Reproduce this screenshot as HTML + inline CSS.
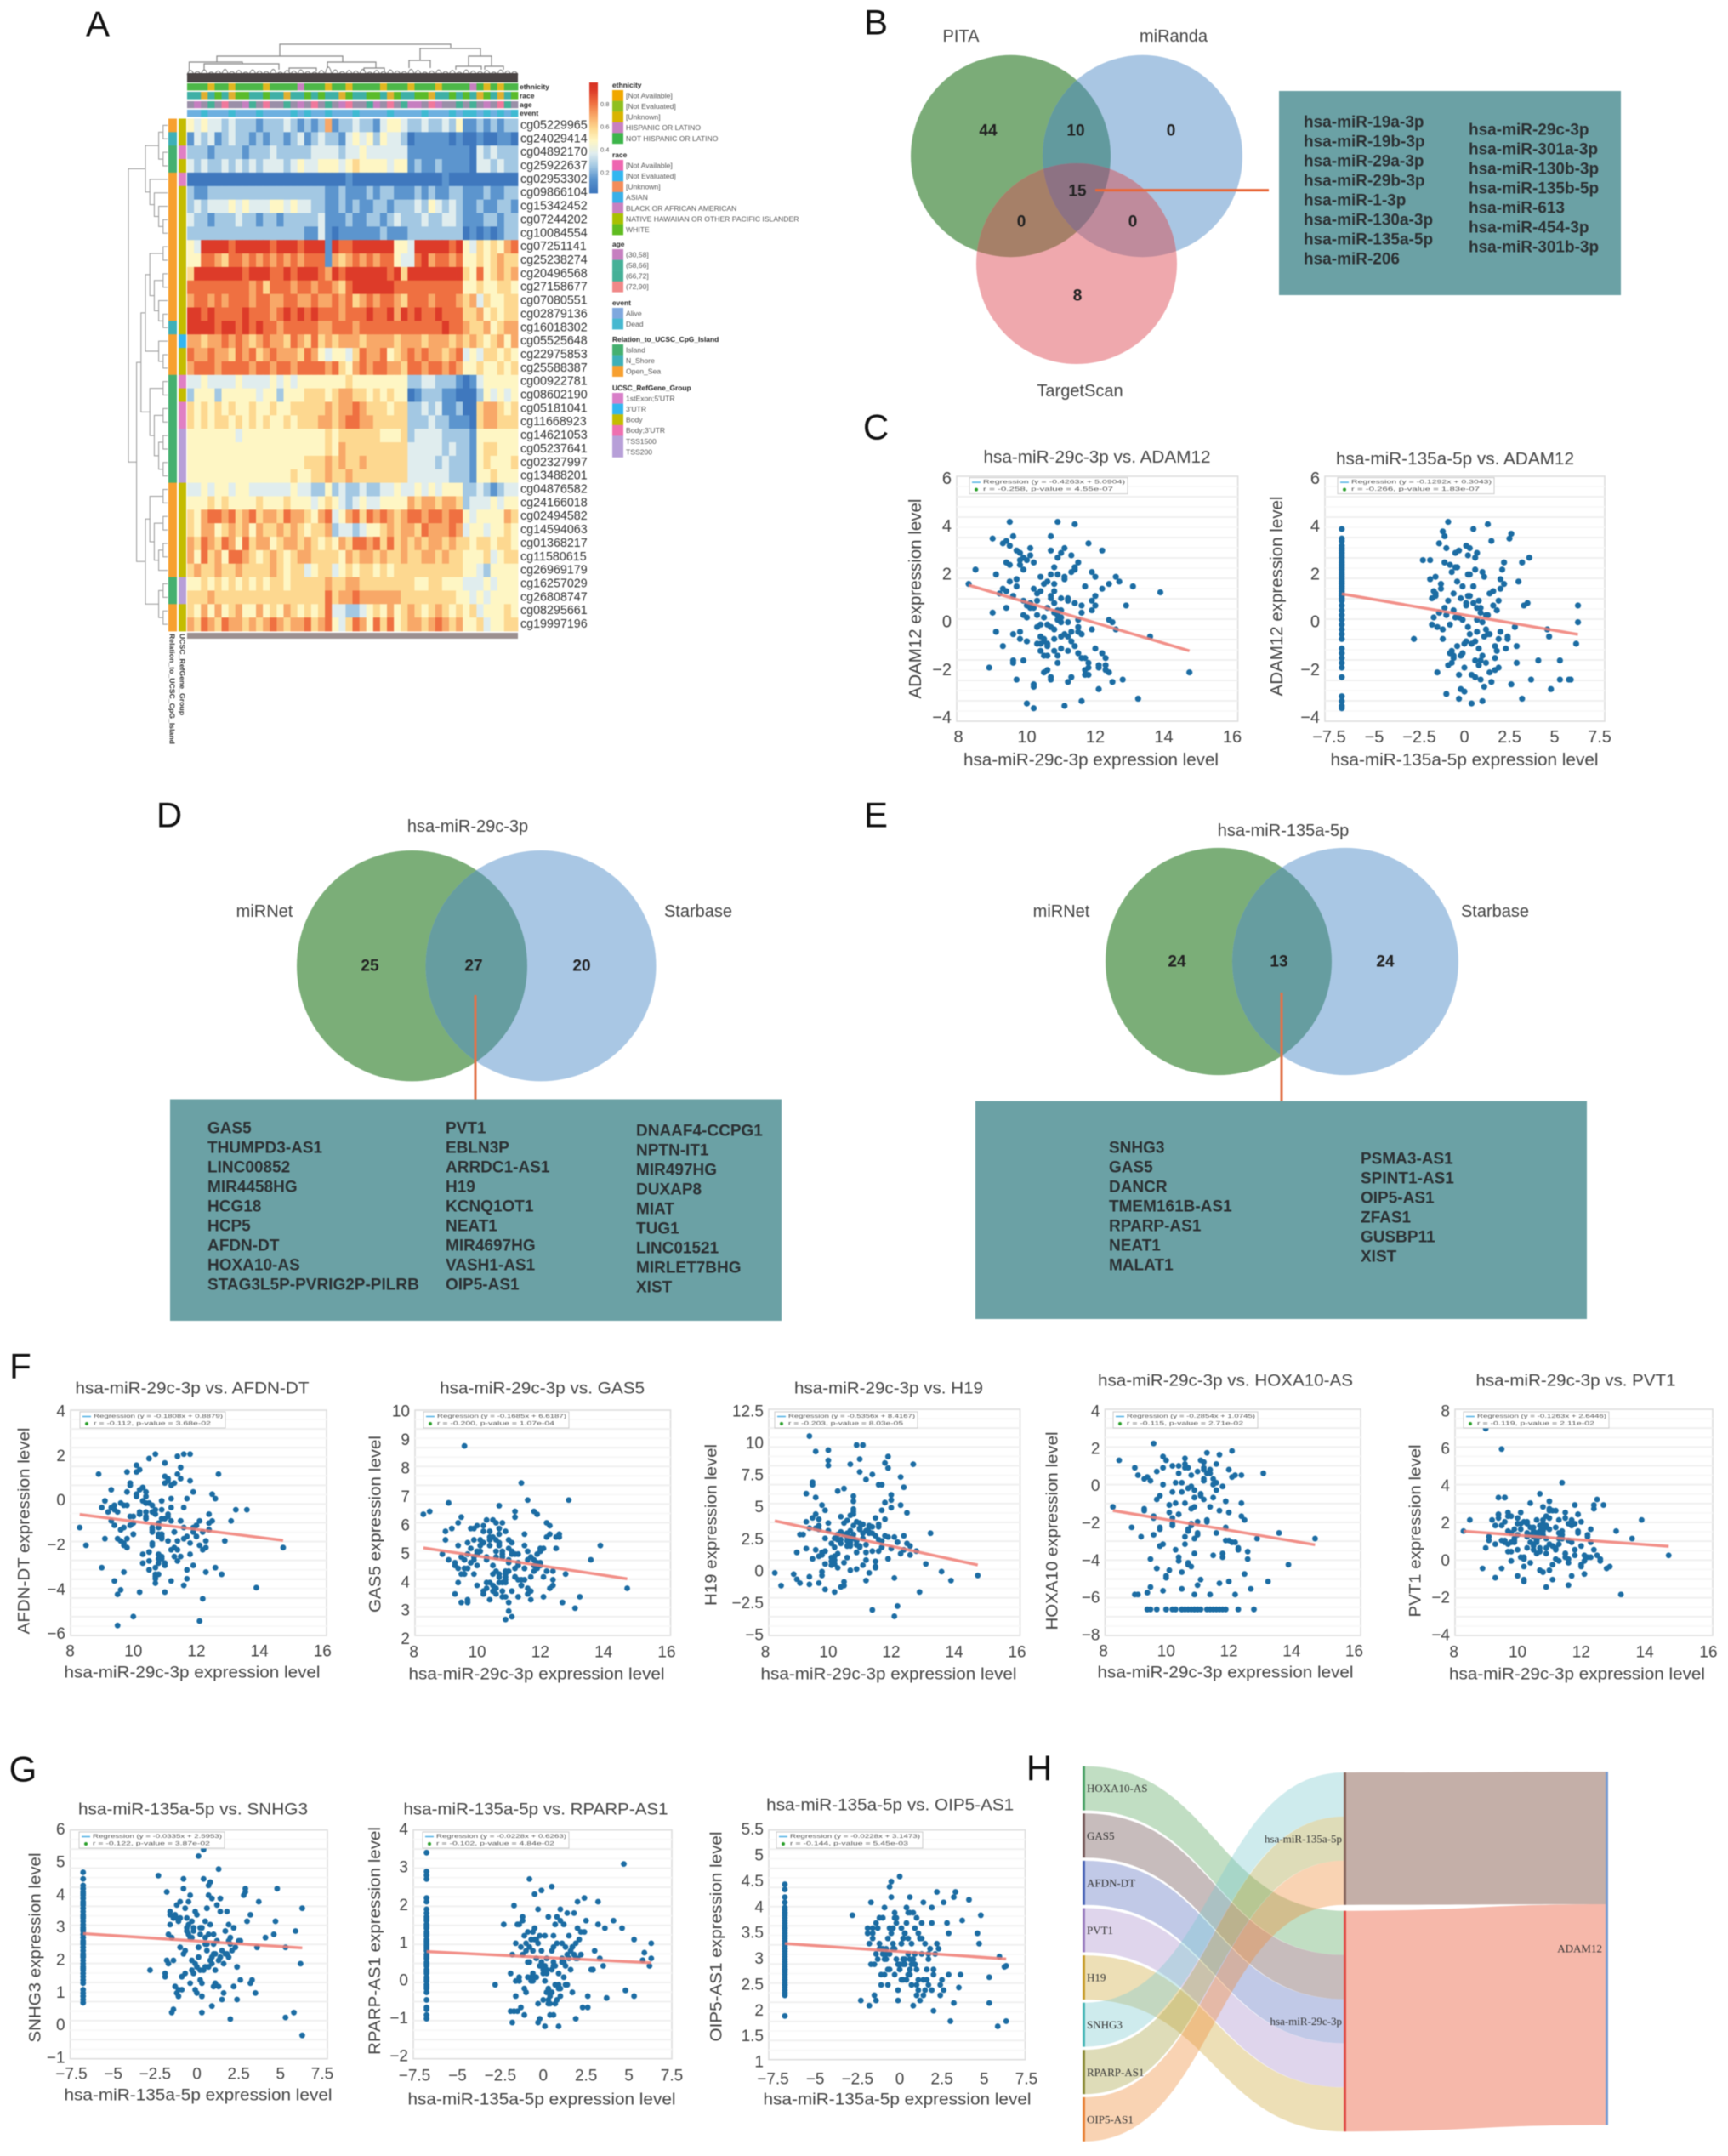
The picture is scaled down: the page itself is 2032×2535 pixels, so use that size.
<!DOCTYPE html>
<html lang="en">
<head>
<meta charset="utf-8">
<title>Multi-panel methylation and ceRNA figure</title>
<style>
html,body{margin:0;padding:0;background:#fff}
svg{display:block;filter:blur(.6px)}
text{font-family:"Liberation Sans",sans-serif}
.letter{font-size:42px;fill:#111;text-anchor:middle;dominant-baseline:central}
.set{font-size:20px;fill:#444;text-anchor:middle;dominant-baseline:central}
.cnt{font-size:19px;font-weight:bold;fill:#222;text-anchor:middle;dominant-baseline:central}
.gene{font-size:19px;font-weight:bold;fill:#2b3033;dominant-baseline:central}
</style>
</head>
<body>
<svg id="fig" xmlns="http://www.w3.org/2000/svg" width="2032" height="2535" viewBox="0 0 2032 2535">
<defs>
<clipPath id="cG"><ellipse cx="1188.5" cy="183.5" rx="117.5" ry="118.7"/></clipPath>
<clipPath id="cB"><ellipse cx="1343.5" cy="183.5" rx="117.5" ry="118.7"/></clipPath>
<clipPath id="cR"><ellipse cx="1266" cy="310" rx="118" ry="118"/></clipPath>
<clipPath id="dG"><ellipse cx="484.5" cy="1135.7" rx="135.5" ry="135.7"/></clipPath>
<clipPath id="eG"><ellipse cx="1433" cy="1130.5" rx="133" ry="133.6"/></clipPath>
</defs>
<rect width="2032" height="2535" fill="#fff"/>
<text class="letter" x="115" y="28">A</text>
<text class="letter" x="1030" y="26">B</text>
<text class="letter" x="1030" y="502">C</text>
<text class="letter" x="199" y="958">D</text>
<text class="letter" x="1030" y="958">E</text>
<text class="letter" x="24" y="1606">F</text>
<text class="letter" x="27" y="2080">G</text>
<text class="letter" x="1222" y="2079">H</text>

<g>
<ellipse cx="1188.5" cy="183.5" rx="117.5" ry="118.7" fill="#7BAC78"/>
<ellipse cx="1343.5" cy="183.5" rx="117.5" ry="118.7" fill="#A9C6E3"/>
<ellipse cx="1266" cy="310" rx="118" ry="118" fill="#EFA8AD"/>
<g clip-path="url(#cG)"><ellipse cx="1343.5" cy="183.5" rx="117.5" ry="118.7" fill="#629A9E"/></g>
<g clip-path="url(#cG)"><ellipse cx="1266" cy="310" rx="118" ry="118" fill="#A68068"/></g>
<g clip-path="url(#cB)"><ellipse cx="1266" cy="310" rx="118" ry="118" fill="#BF8B9C"/></g>
<g clip-path="url(#cG)"><g clip-path="url(#cB)"><ellipse cx="1266" cy="310" rx="118" ry="118" fill="#8D7283"/></g></g>
<text class="set" x="1130" y="43">PITA</text>
<text class="set" x="1380" y="43">miRanda</text>
<text class="set" x="1270" y="460">TargetScan</text>
<text class="cnt" x="1162" y="154">44</text>
<text class="cnt" x="1265" y="154">10</text>
<text class="cnt" x="1377" y="154">0</text>
<text class="cnt" x="1267" y="225">15</text>
<text class="cnt" x="1201" y="261">0</text>
<text class="cnt" x="1332" y="261">0</text>
<text class="cnt" x="1267" y="348">8</text>
<line x1="1288" y1="223.6" x2="1492" y2="223.6" stroke="#E8683A" stroke-width="3"/>
<rect x="1504" y="107" width="402" height="240" fill="#6BA1A5"/>
<text class="gene" x="1533" y="144">hsa-miR-19a-3p</text>
<text class="gene" x="1533" y="167">hsa-miR-19b-3p</text>
<text class="gene" x="1533" y="190">hsa-miR-29a-3p</text>
<text class="gene" x="1533" y="213">hsa-miR-29b-3p</text>
<text class="gene" x="1533" y="236">hsa-miR-1-3p</text>
<text class="gene" x="1533" y="259">hsa-miR-130a-3p</text>
<text class="gene" x="1533" y="282">hsa-miR-135a-5p</text>
<text class="gene" x="1533" y="305">hsa-miR-206</text>
<text class="gene" x="1727" y="153">hsa-miR-29c-3p</text>
<text class="gene" x="1727" y="176">hsa-miR-301a-3p</text>
<text class="gene" x="1727" y="199">hsa-miR-130b-3p</text>
<text class="gene" x="1727" y="222">hsa-miR-135b-5p</text>
<text class="gene" x="1727" y="245">hsa-miR-613</text>
<text class="gene" x="1727" y="268">hsa-miR-454-3p</text>
<text class="gene" x="1727" y="291">hsa-miR-301b-3p</text>
</g>

<g>
<ellipse cx="484.5" cy="1135.7" rx="135.5" ry="135.7" fill="#7BAE78"/>
<ellipse cx="636" cy="1135.7" rx="135.5" ry="135.7" fill="#A9C7E4"/>
<g clip-path="url(#dG)"><ellipse cx="636" cy="1135.7" rx="135.5" ry="135.7" fill="#669DA0"/></g>
<text class="set" x="550" y="972">hsa-miR-29c-3p</text>
<text class="set" x="311" y="1072">miRNet</text>
<text class="set" x="821" y="1072">Starbase</text>
<text class="cnt" x="435" y="1136">25</text>
<text class="cnt" x="557" y="1136">27</text>
<text class="cnt" x="684" y="1136">20</text>
<line x1="559" y1="1170" x2="559" y2="1293" stroke="#E2734A" stroke-width="3"/>
<rect x="200" y="1292.5" width="719" height="260.5" fill="#6BA1A5"/>
<text class="gene" x="244" y="1327">GAS5</text>
<text class="gene" x="244" y="1350">THUMPD3-AS1</text>
<text class="gene" x="244" y="1373">LINC00852</text>
<text class="gene" x="244" y="1396">MIR4458HG</text>
<text class="gene" x="244" y="1419">HCG18</text>
<text class="gene" x="244" y="1442">HCP5</text>
<text class="gene" x="244" y="1465">AFDN-DT</text>
<text class="gene" x="244" y="1488">HOXA10-AS</text>
<text class="gene" x="244" y="1511">STAG3L5P-PVRIG2P-PILRB</text>
<text class="gene" x="524" y="1327">PVT1</text>
<text class="gene" x="524" y="1350">EBLN3P</text>
<text class="gene" x="524" y="1373">ARRDC1-AS1</text>
<text class="gene" x="524" y="1396">H19</text>
<text class="gene" x="524" y="1419">KCNQ1OT1</text>
<text class="gene" x="524" y="1442">NEAT1</text>
<text class="gene" x="524" y="1465">MIR4697HG</text>
<text class="gene" x="524" y="1488">VASH1-AS1</text>
<text class="gene" x="524" y="1511">OIP5-AS1</text>
<text class="gene" x="748" y="1330">DNAAF4-CCPG1</text>
<text class="gene" x="748" y="1353">NPTN-IT1</text>
<text class="gene" x="748" y="1376">MIR497HG</text>
<text class="gene" x="748" y="1399">DUXAP8</text>
<text class="gene" x="748" y="1422">MIAT</text>
<text class="gene" x="748" y="1445">TUG1</text>
<text class="gene" x="748" y="1468">LINC01521</text>
<text class="gene" x="748" y="1491">MIRLET7BHG</text>
<text class="gene" x="748" y="1514">XIST</text>
</g>

<g>
<ellipse cx="1433" cy="1130.5" rx="133" ry="133.6" fill="#7BAE78"/>
<ellipse cx="1582" cy="1130.5" rx="133" ry="133.6" fill="#A9C7E4"/>
<g clip-path="url(#eG)"><ellipse cx="1582" cy="1130.5" rx="133" ry="133.6" fill="#669DA0"/></g>
<text class="set" x="1509" y="977">hsa-miR-135a-5p</text>
<text class="set" x="1248" y="1072">miRNet</text>
<text class="set" x="1758" y="1072">Starbase</text>
<text class="cnt" x="1384" y="1131">24</text>
<text class="cnt" x="1504" y="1131">13</text>
<text class="cnt" x="1629" y="1131">24</text>
<line x1="1507" y1="1167" x2="1507" y2="1295" stroke="#E2734A" stroke-width="3"/>
<rect x="1147" y="1294.6" width="719" height="256.4" fill="#6BA1A5"/>
<text class="gene" x="1304" y="1350">SNHG3</text>
<text class="gene" x="1304" y="1373">GAS5</text>
<text class="gene" x="1304" y="1396">DANCR</text>
<text class="gene" x="1304" y="1419">TMEM161B-AS1</text>
<text class="gene" x="1304" y="1442">RPARP-AS1</text>
<text class="gene" x="1304" y="1465">NEAT1</text>
<text class="gene" x="1304" y="1488">MALAT1</text>
<text class="gene" x="1600" y="1363">PSMA3-AS1</text>
<text class="gene" x="1600" y="1386">SPINT1-AS1</text>
<text class="gene" x="1600" y="1409">OIP5-AS1</text>
<text class="gene" x="1600" y="1432">ZFAS1</text>
<text class="gene" x="1600" y="1455">GUSBP11</text>
<text class="gene" x="1600" y="1478">XIST</text>
</g>

<g>
<path fill="none" stroke="#888" stroke-width="1.2" d="M329 66V52H530V57M255 73V66H403V73M494 71V57H565V66M481 80V71H506V80M551 78V66H578V78M222.500 83V73H285V75M240 82V75H328V82M385 80V73H442V80M536 82V78H566V82M570 82V78H592V82M340 84V80H372V84M428 84V80H452V84"/>
<text x="611" y="102" font-size="8.500" font-weight="bold" fill="#222" dominant-baseline="central">ethnicity</text>
<text x="611" y="112.500" font-size="8.500" font-weight="bold" fill="#222" dominant-baseline="central">race</text>
<text x="611" y="123" font-size="8.500" font-weight="bold" fill="#222" dominant-baseline="central">age</text>
<text x="611" y="133" font-size="8.500" font-weight="bold" fill="#222" dominant-baseline="central">event</text>
<rect x="220" y="744" width="389" height="7" fill="#9C9090"/>
<text transform="translate(214,745) rotate(90)" font-size="8" font-weight="bold" fill="#333" dominant-baseline="central" textLength="96" lengthAdjust="spacingAndGlyphs">UCSC_RefGene_Group</text>
<text transform="translate(202,745) rotate(90)" font-size="8" font-weight="bold" fill="#333" dominant-baseline="central" textLength="130" lengthAdjust="spacingAndGlyphs">Relation_to_UCSC_CpG_Island</text>
</g>
<g id="dyn"></g>
</svg>
<script>
/* ---------- heatmap data ---------- */
const heatProbes=["cg05229965","cg24029414","cg04892170","cg25922637","cg02953302","cg09866104","cg15342452","cg07244202","cg10084554","cg07251141","cg25238274","cg20496568","cg27158677","cg07080551","cg02879136","cg16018302","cg05525648","cg22975853","cg25588387","cg00922781","cg08602190","cg05181041","cg11668923","cg14621053","cg05237641","cg02327997","cg13488201","cg04876582","cg24166018","cg02494582","cg14594063","cg01368217","cg11580615","cg26969179","cg16257029","cg26808747","cg08295661","cg19997196"];
const heatValues=[
[5,4,5,4,4,3,4,3,3,3,2,3,3,3,4,3,2,3,2,3,7,2,3,3,4,3,3,2,4,5,5,4,3,3,4,3,3,4,3,5,2,2,3,2,3,2,3,3],
[2,4,3,4,2,3,4,3,3,2,3,2,3,3,2,3,4,2,3,4,3,3,2,4,5,4,5,3,5,4,4,3,1,2,2,2,2,2,1,2,1,1,2,1,1,2,2,1],
[3,3,3,2,3,3,3,3,2,3,3,3,4,3,3,3,3,3,4,4,4,4,3,4,4,5,4,4,4,4,4,4,2,2,2,2,2,2,2,2,2,1,4,3,4,3,3,3],
[4,3,4,3,3,4,3,4,3,4,3,4,4,4,3,4,5,4,4,5,5,5,4,5,6,5,5,5,5,4,5,5,2,3,2,2,3,2,2,2,2,1,4,4,3,4,3,3],
[1,1,1,1,1,1,1,1,1,1,1,1,1,1,1,1,1,1,1,1,1,1,1,2,1,1,1,1,1,1,1,1,1,1,1,1,1,2,1,1,1,1,1,1,1,1,1,1],
[3,2,2,3,3,3,3,3,3,3,3,3,3,3,3,3,3,3,3,3,2,2,3,2,2,2,3,2,3,3,2,2,2,3,2,3,2,2,3,3,2,2,2,3,2,2,3,3],
[3,4,3,4,4,4,5,4,5,4,4,4,5,5,4,5,4,4,3,3,2,2,3,2,3,2,2,3,3,2,3,3,3,4,3,5,4,3,4,3,2,2,3,2,2,3,3,2],
[4,3,3,2,3,3,3,4,3,3,2,3,3,2,3,3,3,3,3,4,2,2,2,3,2,2,3,3,2,3,4,3,3,3,4,3,3,4,4,3,2,2,2,3,3,2,3,3],
[3,3,3,3,3,3,3,3,3,3,3,3,3,3,3,3,3,2,2,4,2,1,2,2,2,2,2,2,3,2,2,2,3,3,3,3,3,3,3,3,1,2,1,2,1,2,3,3],
[5,4,9,9,9,9,8,9,9,9,9,9,8,9,9,9,8,9,9,9,2,9,8,8,9,9,9,9,9,9,5,5,4,9,9,9,9,9,8,9,5,4,6,5,6,5,7,8],
[5,5,8,8,7,6,8,8,7,8,7,8,7,8,7,8,7,8,8,8,2,7,6,7,8,7,8,7,8,8,5,4,4,8,9,7,8,8,7,8,5,5,6,5,6,7,6,6],
[6,9,9,9,9,9,9,9,8,9,9,9,8,8,9,8,9,9,9,8,7,9,8,9,9,9,9,9,9,8,9,6,9,9,9,9,9,9,9,9,6,5,8,5,6,7,6,7],
[8,8,8,8,8,8,8,8,8,7,8,6,8,8,8,7,8,8,7,8,8,7,6,8,9,9,9,9,9,9,8,8,8,8,8,8,8,8,8,8,5,5,6,5,5,6,6,5],
[7,8,8,7,8,7,8,8,8,7,8,8,7,7,8,8,7,7,8,7,7,8,7,8,6,7,8,7,8,8,7,6,8,8,8,7,8,8,8,7,6,7,4,6,5,5,6,6],
[9,9,8,9,8,8,8,8,9,8,8,8,7,8,9,8,9,8,9,8,8,8,7,8,8,8,9,8,8,9,7,9,8,9,8,8,9,8,8,8,6,6,7,5,6,5,6,6],
[9,9,9,9,8,9,9,8,9,8,9,8,8,7,8,8,8,8,8,7,7,8,8,8,7,8,8,8,8,8,8,8,8,8,8,8,8,9,8,8,7,6,6,7,5,6,7,7],
[7,7,6,7,7,8,7,8,7,6,7,8,7,7,6,8,7,6,8,6,7,6,7,7,7,6,7,7,7,7,6,7,7,7,6,7,7,7,6,7,6,7,6,5,6,7,5,7],
[8,7,7,8,7,7,6,8,7,8,6,7,8,7,7,7,6,8,7,5,4,5,5,4,6,8,7,7,8,5,6,7,8,7,8,7,7,6,7,8,4,5,4,6,6,5,6,5],
[7,8,8,8,7,8,8,8,8,7,8,8,7,8,8,7,8,8,8,8,7,8,6,5,7,8,7,8,8,7,7,6,8,8,7,8,8,7,8,7,5,5,6,5,5,6,5,6],
[4,4,5,4,4,4,4,5,4,4,4,4,5,4,5,4,5,5,5,5,5,5,5,6,5,5,5,5,5,5,5,5,3,3,4,4,3,3,3,2,1,2,4,5,5,5,5,5],
[3,5,5,5,3,5,5,5,5,5,4,5,5,3,5,5,5,6,6,6,5,6,7,7,6,6,5,6,5,6,5,5,1,2,3,3,3,2,2,1,1,1,3,5,4,5,4,5],
[6,5,6,5,6,5,6,5,5,6,5,5,6,5,5,6,6,6,6,6,7,6,7,7,8,7,6,6,6,5,6,6,3,3,4,3,4,2,2,3,1,1,6,7,7,6,5,6],
[6,5,6,5,6,6,5,6,5,6,5,6,5,5,6,5,6,6,6,7,7,6,7,8,8,7,7,6,6,6,6,6,3,3,3,4,3,3,2,2,2,1,6,7,7,6,6,6],
[5,5,5,5,5,5,5,4,5,5,5,5,5,5,5,5,5,5,5,5,6,5,6,6,6,6,6,6,5,5,5,6,3,4,4,4,4,3,3,3,3,2,5,5,5,5,5,5],
[5,5,5,5,5,5,5,5,5,5,5,5,5,5,5,5,5,5,5,5,6,5,7,6,6,6,6,6,6,6,6,6,4,4,4,4,4,3,4,3,3,2,5,6,6,5,5,5],
[5,5,5,5,5,5,5,5,5,5,5,5,5,5,5,5,5,6,6,6,7,6,7,6,6,7,6,6,6,6,6,6,4,4,4,4,3,4,3,3,3,2,5,6,5,5,5,6],
[5,5,5,5,5,5,5,5,5,5,5,5,5,5,5,6,5,5,6,6,7,6,6,7,6,6,6,6,6,6,6,6,4,4,4,4,4,4,3,3,3,2,5,5,6,5,5,5],
[4,4,5,4,5,5,4,5,5,4,4,4,4,4,4,5,4,4,3,3,5,3,4,3,3,4,3,3,4,4,5,4,4,5,4,5,4,5,5,5,3,3,4,3,2,3,4,4],
[5,5,5,6,5,6,5,5,5,5,6,5,5,5,6,5,5,5,4,5,6,5,4,3,4,5,4,4,5,5,5,5,7,6,7,7,6,7,7,6,3,4,4,4,5,4,5,5],
[6,5,7,8,8,7,8,6,7,8,6,7,7,6,8,7,7,6,5,7,8,4,5,7,8,6,8,7,8,7,6,7,8,8,7,8,8,7,8,8,5,4,5,5,5,5,7,6],
[6,5,7,7,5,6,7,6,7,5,7,6,6,7,6,7,6,5,6,6,7,3,4,4,3,4,5,5,6,7,6,7,7,6,8,7,7,7,8,7,4,5,5,4,5,5,6,5],
[7,6,8,7,6,8,7,5,8,6,7,7,5,6,7,7,6,7,6,5,6,5,7,6,8,8,7,8,6,8,6,7,6,7,6,7,7,6,7,6,6,5,6,6,5,6,6,5],
[7,5,8,6,7,5,8,8,7,6,5,6,7,6,5,6,7,7,6,6,6,6,5,7,6,7,7,6,7,6,6,7,6,6,7,7,6,7,6,6,5,5,5,6,4,5,6,6],
[6,7,6,6,7,6,6,7,6,6,6,6,7,6,5,6,6,4,5,6,6,4,5,6,5,6,6,5,6,5,6,6,6,6,6,6,6,6,6,6,5,5,4,3,5,5,5,5],
[5,5,6,5,6,5,6,5,6,5,6,5,6,6,5,6,6,6,6,6,7,6,6,7,7,6,6,6,6,6,6,6,6,5,5,6,6,5,5,5,4,4,4,5,4,5,5,5],
[6,6,6,7,6,6,6,6,6,6,6,6,6,6,6,6,6,6,6,6,8,6,7,7,8,7,7,7,7,7,7,6,6,6,6,6,6,6,6,5,5,4,5,4,5,5,5,5],
[6,5,7,5,7,5,6,7,5,5,7,5,6,5,7,6,5,6,5,6,8,4,4,3,3,4,5,6,5,7,5,6,7,6,5,6,7,6,5,6,5,6,4,5,5,5,6,5],
[7,6,8,7,6,8,7,7,6,7,6,7,8,7,6,7,7,8,6,7,8,5,4,6,8,7,5,8,6,8,5,6,7,7,6,7,8,7,6,7,5,5,6,4,5,5,6,6]];
const heatScaleColors=["#3A72BA","#3F78BE","#5C95CE","#A3C8E3","#E0EDEE","#FEF6C4","#FDD890","#F8A868","#EF7041","#DD3B29","#D42E20"];
const relationRow=[2,1,0,0,2,2,2,2,2,2,2,2,2,2,2,1,2,2,2,0,0,0,0,0,0,0,0,2,2,2,2,2,2,2,0,0,2,2];
const refgeneRow=[2,2,3,2,3,2,2,2,2,2,2,2,2,2,2,2,1,2,2,3,2,3,3,4,4,4,4,2,2,2,2,2,2,2,4,4,2,2];
const relationColors=["#45B070","#3EB0B8","#F7A030"];
const refgeneColors=["#D87FC8","#33B6F0","#C4BC00","#E07FC4","#B79FD8"];
const annEthnicity=[0,0,0,1,0,0,1,0,0,0,0,1,0,0,0,0,2,0,0,0,1,0,0,1,0,0,0,0,1,0,0,0,1,0,0,0,1,0,0,0,0,2,0,1,0,1,0,0];
const annRace=[1,1,2,1,0,1,2,0,0,1,1,0,1,1,2,1,1,0,1,0,1,1,2,0,1,1,0,0,1,2,0,1,1,0,0,2,1,1,0,1,0,1,2,0,1,2,1,0];
const annAge=[3,0,3,1,3,2,3,3,0,1,3,2,3,3,1,3,0,3,2,3,1,3,0,2,3,3,1,0,3,2,3,1,0,0,3,2,0,3,3,1,3,1,3,0,3,2,1,3];
const annEvent=[0,0,1,0,0,0,1,0,0,0,1,0,0,0,0,1,0,1,0,0,1,0,0,0,1,0,0,0,0,1,0,0,0,0,1,0,0,0,1,0,1,1,0,1,0,1,0,1];
const annPalettes={ethnicity:["#4DB848","#E0B820","#C880C0"],race:["#5BBB2A","#3FB0A6","#E0B030"],age:["#C67FC0","#45B097","#F0789C","#9A8FA8"],event:["#6DB0E0","#3FBAD2"]};
const topLeafHeights=[8,6,9,5,7,10,6,8,5,9,7,6,10,5,8,7,9,6,5,8,14,9,6,8,7,10,5,8,6,9,7,6,10,8,5,7,9,6,8,5,9,7,6,8,5,9,7,6];
const rowTree=[[[[0,1],[2,3]],[4,[5,[6,[7,8]]]]],[[[[[9,10],[[11,12],[13,[14,15]]]],[16,[17,18]]],[[19,20],[[21,22],[[23,24],[25,26]]]]],[[[27,28],[[29,30],[[31,32],33]]],[[34,35],[36,37]]]]];
const legendBlocks=[
["ethnicity",100,[["[Not Available]","#F0A800"],["[Not Evaluated]","#8FBF20"],["[Unknown]","#D8B400"],["HISPANIC OR LATINO","#C880C0"],["NOT HISPANIC OR LATINO","#3DB54A"]]],
["race",182,[["[Not Available]","#EE66B0"],["[Not Evaluated]","#33B6F0"],["[Unknown]","#F48C5A"],["ASIAN","#38B0E8"],["BLACK OR AFRICAN AMERICAN","#C880C0"],["NATIVE HAWAIIAN OR OTHER PACIFIC ISLANDER","#A8C000"],["WHITE","#60BC20"]]],
["age",287,[["(30,58]","#C67FC0"],["(58,66]","#45B097"],["(66,72]","#45B097"],["(72,90]","#F08888"]]],
["event",356,[["Alive","#7FA8DE"],["Dead","#46B8D0"]]],
["Relation_to_UCSC_CpG_Island",399,[["Island","#45B070"],["N_Shore","#3EB0B8"],["Open_Sea","#F7A030"]]],
["UCSC_RefGene_Group",456,[["1stExon;5'UTR","#D87FC8"],["3'UTR","#33B6F0"],["Body","#C4BC00"],["Body;3'UTR","#EE70B0"],["TSS1500","#B79FD8"],["TSS200","#B79FD8"]]]];
const colorbarTicks=[0.8,0.6,0.4,0.2];

/* ---------- scatter data ---------- */
const x29=[14.75,13.9,13.6,13.25,13.1,8.3,8.5,8.9,9,9,9.1,9.1,12.9,12.8,12.7,12.6,
9.6,11.4,10.9,11.1,10,9.5,12.1,10.7,11.8,11,10.2,11.6,9.4,12.2,
10.4,11.2,9.8,10.6,11.5,10.1,10.8,12,9.7,11.3,10.5,10.9,11.7,9.9,10.3,11,12.4,10.7,9.3,11.4,
10.2,11.9,10.6,11.1,9.6,10.8,12.3,10.4,11.5,9.8,10,11.2,12.5,10.9,9.5,11.6,10.3,10.7,11.8,9.7,
11,10.5,12.1,9.2,11.3,10.1,10.8,11.7,9.9,10.6,12,11.4,10.2,9.4,11.1,10.4,12.6,10.9,9.6,11.5,
10.7,11.9,10,11.2,9.3,10.5,12.2,10.8,11.6,9.8,11,10.3,12.4,10.6,9.5,11.3,10.1,11.8,10.9,9.7,
11.4,10.4,12.3,10.7,9.9,11.1,10.2,12,10.8,9.4,11.5,10.6,11.7,10,9.6,11.2,10.5,12.5,10.9,9.8,
11,10.3,11.9,10.7,9.5,11.6,10.1,12.1,10.8,9.3,11.3,10.4,12.2,11,9.7,10.6,11.8,10.2,11.4,9.9,
10.9,12,10.5,11.2,9.6,10.7,11.5,10.3,12.3,10.8,9.8,11.1,10,11.7,10.6,9.4,11.3,10.4,12.4,10.9,
11,10.2,11.6,9.9,10.7,11.9,10.5,9.7,11.2,10.8];
const yAdam29=[-2.1,1.25,-0.6,-3.2,1.5,1.6,2.2,-1.9,3.5,0.4,-0.4,2,0.7,-2.4,1.7,1.9,
3.6,4.1,4.2,-3.5,-3.4,4.2,-2.8,3.6,3.3,2.9,-3.6,-3.3,2.5,3,
1.9,-1.2,2.4,0.6,0.1,2.8,-0.3,1.1,-2.4,-0.8,1.6,0.3,-1.5,2.2,0.9,-0.6,-2.1,3,1.4,-1,
2.5,0.5,-2,1.8,-0.5,0.8,-1.8,1.3,-0.2,2.6,0.2,1,-2.5,-1.4,3.2,0.7,-0.9,2,-1.7,1.5,
0,-0.7,-1.9,1.2,-0.4,3.1,0.4,-2.2,0.9,1.7,-1.1,2.3,-2.6,0.6,1.9,-0.1,-0.3,2.7,-1.6,-1.3,
1.1,2.1,-0.8,-0.6,3.3,0.2,1.4,-1.2,-1.5,2.9,0.5,-0.2,1.6,-1,2.4,-2.3,0.8,-1.9,0.1,1.8,
2.2,-0.9,-2,1,0.3,-0.5,-2.7,0.7,1.3,3.4,-0.4,-1.4,1.5,2.6,-1.7,0.9,-2.1,0,2,-0.7,
-1.1,1.2,-0.3,-2.4,1.7,0.4,0.6,-1.8,2.3,-1,2.8,-0.6,-1.3,0.2,3,-0.1,-2.2,1.4,0.8,-1.6,
0.5,1.9,-0.8,-2.5,1.1,-0.2,2.5,0.3,-1.5,1.6,-0.4,3.1,0.7,-2,-0.9,1.3,2.1,-1.2,0.1,-1.7,
1,0.6,-0.5,2.7,-2.3,0.9,-1.4,1.8,0,-0.7];
const yAfdn=[-2.1,-3.9,-0.4,-0.4,-0.9,-1.2,-2,1.2,-3,-0.3,-1.7,0,-1.8,-3.3,1.2,0.1,
-4,2,-2.5,1,-5.2,-5.6,-5.4,2.1,2.1,-4.1,-4.1,2.1,-3.6,-4.4,
-0.5,-2.2,0.4,-1.4,-0.9,1.3,-2.8,-1.1,-0.2,0.8,-3.1,-1.6,0.1,-0.7,-2.4,1.7,-1.3,-3.5,0.5,-1.8,
-0.6,-2.9,-1.2,0.9,-0.1,-1.5,-3.2,-0.8,1.5,-2.1,-1,-0.3,0.3,-2.6,-1.7,-3.8,0.6,-0.4,-1.9,-1.2,
1.1,-2.3,-0.9,-0.5,-1.4,0.2,-3.3,-1.6,0.7,-2,-1.1,-2.7,1.4,-0.2,-1.8,-0.7,-3,0,-1.3,-2.5,
-0.6,0.4,-1.5,-3.6,-0.9,1.9,-2.2,-1.2,-0.3,-1.7,0.8,-2.8,-1,-0.5,-4.2,-1.4,0.3,-2.4,-0.8,-1.9,
1.2,-0.1,-2.1,-3.4,-1.1,-0.6,0.5,-1.6,-2.6,-0.4,1,-1.3,-3.1,-0.7,-1.8,0.1,-2.3,-0.9,-1.5,-0.2,
-2.9,0.6,-1.2,-3.7,-0.5,-1.7,1.6,-2,-1,-0.3,-2.5,0.2,-1.4,-0.8,-3.2,-1.9,0.9,-0.6,-2.2,-1.1,
-0.4,-1.6,-2.7,0.7,-1.3,-3,-0.9,0,-1.8,-2.4,1.3,-0.7,-1.5,-3.5,-0.2,-1.1,-2.1,0.4,-0.6,-1.7,
-2.8,-0.5,-1.2,0.8,-3.3,-1.4,-0.1,-2,-0.9,-1.6];
const yGas5=[3.8,5.3,4.8,3.5,3.1,6.4,6.5,5,5.5,5.8,6.8,4.8,6.9,4.3,3.3,5.6,
8.8,7.5,2.7,2.8,3.9,3.3,3.5,6.7,6.5,3,3.7,6.9,6.1,6.1,
5.6,4.2,5.9,4.9,4.5,5.3,4,5.1,3.4,4.7,6.2,4.4,3.7,5.5,4.8,5.2,3.9,5.7,4.6,4.1,
6,5,3.6,5.4,4.3,4.9,3.8,5.8,4.5,4.7,5.1,4.2,5.6,3.5,6.3,4.8,4,5.3,4.4,5,
3.3,4.6,5.2,5.9,4.1,5.5,3.7,4.9,4.3,6.1,4.7,3.9,5.4,4.5,5.1,3.4,5.7,4.2,4.8,5.3,
4,6.4,4.6,5,3.6,5.6,4.4,4.9,3.8,5.2,4.7,6.2,4.1,5.5,4.3,3.5,5.1,4.8,5.8,4.5,
3.9,5.3,6,4.2,4.9,3.7,5.4,4.6,5.1,4,5.7,4.4,3.4,5,4.8,6.5,4.3,5.2,4.1,4.7,
5.5,3.8,4.5,5.9,4.9,3.6,5.3,4.2,6.1,4.7,5,4,5.6,4.4,3.3,5.1,4.6,5.8,3.9,4.8,
4.3,5.2,3.7,6.3,4.5,5.4,4.1,4.9,5.7,3.5,4.7,5,6,4.2,3.8,5.3,4.6,5.5,4.4,4,
4.8,3.6,5.1,5.9,4.3,4.7,3.9,5.4,4.5,5];
const yH19=[-0.3,-0.7,0,3,0.6,-0.1,-1.1,-0.2,-0.6,1.5,2.9,-0.9,-1.6,1.6,8.4,2,
9.4,-3,9.9,9.9,9.5,6.8,-3.5,8.4,8.5,8.8,-1.6,6.8,10.6,-2.7,
3.1,7.2,1.5,2.4,4.2,0.8,2.9,5.6,1.2,3.5,-0.8,2.1,4.8,2.6,0.3,3.8,1.7,2.3,6.1,3,
1.9,8.1,2.7,0.5,3.4,4.5,1.4,-1.2,2.8,5.2,3.2,0.9,2.2,3.9,7,1.6,2.5,0.1,4.1,3.3,
2,6.5,-0.5,2.9,3.6,1.1,4.7,2.4,0.6,3,1.8,7.6,2.6,-1,3.7,4.3,1.3,2.1,5.8,0.4,
3.2,2.7,8.3,1.5,3.9,0.7,2.3,4.9,3.5,-0.3,1.9,6.3,2.8,4,1,3.1,2.2,5.4,0.2,3.6,
1.6,2.5,7.4,4.4,-1.4,3,1.2,5,2.6,3.4,0.8,2,6.8,3.8,1.7,-0.7,2.9,4.6,2.4,0,
3.3,1.4,9,2.1,4.2,3.7,0.5,2.7,5.5,1.8,-0.1,3.1,2.3,7.8,4.1,1.1,2.8,0.9,3.5,1.6,
2.4,6,-1.1,3.2,4.5,2,0.3,2.9,5.2,3.6,1.3,2.6,8.7,1.9,4,-0.4,3,2.2,6.6,1.5,
3.4,0.6,2.5,4.8,2.7,1,3.8,-0.9,2.1,5.9];
const yHoxa10=[-2.8,-4.2,-2.5,-5.1,0.7,-1.1,1.4,-2.2,-5.8,1,-5.8,0.6,-2.8,-6.6,-5.5,-3.9,
2.3,-5.8,-6.6,-6.6,-6.6,-6.6,1.9,1,-6.6,-6.6,-6.6,-6.6,-6.6,-5.8,
-1.5,0.4,-3.2,1.2,-0.6,-4.5,-2.1,0.9,-6.6,-1.8,0.2,-3.6,-5.2,1.6,-0.9,-2.6,0.6,-4.1,-1.2,-6.6,
-0.3,-2.9,1,-5,-1.6,0,-3.4,0.7,-6.6,-2.2,1.4,-0.7,-4.7,-1.1,0.3,-2.5,-6.6,-0.1,-3.8,0.8,
-1.9,-5.5,0.5,-2.7,1.8,-1,-4.3,-6.6,0.1,-3.1,-1.4,0.9,-2,-5.7,-0.5,1.1,-3.5,-6.6,-1.7,0.4,
-2.4,-0.8,-4.9,1.3,-1.3,-6.6,-3,0.6,-0.2,-2.3,-5.3,0.2,-1.6,1.5,-3.9,-6.6,-1,0,-2.8,-4.4,
0.7,-1.5,-3.3,-6.6,1,-0.4,-2.1,-5.1,-1.2,0.5,-3.7,-0.9,1.7,-6.6,-2.6,0.3,-4.6,-1.8,-0.6,-3.2,
0.8,-6.6,-2.2,-0.1,-5.4,1.2,-1.4,-3,-6.6,0.4,-1.9,-4,0.6,-2.5,-0.7,-6.6,-3.6,1.1,-1.1,-5.6,
-0.2,-2.9,-6.6,0.9,-1.6,-4.2,0.1,-3.4,-6.6,-2,-0.5,1.4,-4.8,-1.3,-2.7,-6.6,0.7,-3.8,-0.9,-5.8,
-6.6,-1.7,0.2,-3.1,-2.3,-6.6,-0.3,-4.4,1,-1.2];
const yPvt1=[0.3,2.2,1.2,-1.8,1.6,1.6,2.2,-0.4,7.1,0.7,1.1,1.3,-0.3,-0.4,3,0.1,
3.4,4.2,-1.4,-1,-0.8,6,0,3.6,3,3.2,-1,-1.3,3.4,0.2,
1.8,0.6,2.4,1.1,0.2,2,1.4,-0.2,2.6,0.9,1.6,0.4,2.2,1,1.3,-0.5,2.8,0.7,1.9,1.2,
0.1,2.5,1.5,0.8,2.1,-0.6,1.7,1,2.3,0.5,1.4,2.7,0.3,1.8,1.1,-0.1,2,1.6,0.6,2.4,
0.9,1.3,-0.7,2.2,1.5,0.2,2.9,1,1.7,0.4,2.1,1.2,-0.3,2.5,0.8,1.4,0,1.9,1.1,2.6,
0.5,1.6,2.3,0.7,-0.9,1.8,1.3,2,0.1,1,2.7,1.5,0.6,2.2,-0.4,1.2,1.7,0.3,2.4,0.9,
1.4,3.1,0.2,1.9,1.1,-0.2,2.1,0.8,1.6,2.5,0.4,1.3,-0.8,2,1,1.8,0.6,3.3,1.2,0,
2.3,0.7,1.5,-0.5,1.9,1.1,2.6,0.3,1.7,0.9,2.2,-0.1,1.4,2.8,0.5,1,2,0.2,1.6,1.2,
2.4,-0.3,0.8,1.8,3.4,1.3,0.4,2.1,1,-0.6,1.5,2.7,0.6,1.9,1.1,2.3,0,1.4,3,0.7,
1.7,-1.1,2,1.2,0.5,2.5,0.9,1.6,0.1,2.2];
const x135=[6.3,6.3,6.2,5.9,5.8,5.3,5.3,4.8,4.7,4.6,-2.8,4.1,3.7,3.5,3.2,3.2,2.9,-2.3,
0.1,-1.1,1,-0.6,0.7,-1.6,1.9,0.3,-0.3,1.4,-1.9,0.6,2.2,-0.9,0.4,1.2,-0.1,-1.4,1.7,0.9,
-0.5,2.6,0.2,-1.2,1.1,0.5,-0.8,1.6,-1.8,0,2,-0.4,0.8,-1,1.3,2.4,-0.2,-1.5,0.6,1.8,
-0.7,0.3,1,-1.3,2.8,0.1,-0.6,1.5,-1.7,0.9,-0.1,2.1,0.4,-0.9,1.2,3,-1.1,0.7,-0.3,1.7,
-1.6,0.2,2.3,-0.5,1.1,0.5,-1.4,1.9,-0.8,0,0.8,2.6,-1.2,-0.2,1.4,0.6,-1.9,1,-0.4,2,
0.3,-1,1.6,-0.7,0.9,3.3,-1.5,0.1,1.3,-0.3,2.2,0.6,-1.1,1.8,-0.6,0.4,-1.8,1.1,0.2,-0.9,
2.5,0.7,-0.1,-1.3,1.5,0.5,-0.5,2,-1.6,0.8,1.2,-0.2,3.6,-0.8,0.3,1.7,-1.2,0.9,0,-0.4,
1.4,-1.7,0.6,2.4,-0.6,1,0.2,-1,1.9,-0.3,0.5,2.9,-1.4,0.7,1.3,-0.7,0.1,
-6.8,-6.8,-6.8,-6.8,-6.8,-6.8,-6.8,-6.8,-6.8,-6.8,-6.8,-6.8,-6.8,-6.8,-6.8,-6.8,-6.8,-6.8,-6.8,-6.8,-6.8,-6.8,-6.8,-6.8,-6.8,-6.8,-6.8,-6.8,-6.8,-6.8,-6.8,-6.8,-6.8,-6.8,-6.8,-6.8,-6.8,-6.8,-6.8,-6.8,-6.8,-6.8,-6.8,-6.8,-6.8];
const yAdam135=[0.7,0,-0.9,-2.4,-2.4,-1.6,-2.4,-2.8,-0.6,-0.3,-0.7,-1.6,-2.4,0.8,2.5,-3.2,-1.7,2.6,
-0.8,3.6,2.1,-1.4,0.6,1.2,-1.9,3.1,0.2,-0.5,1.8,-1.6,2.5,0.9,-2.2,-0.3,1.5,3.3,-1,0.4,
2.9,-2.6,1.1,-0.7,1.9,3.9,-1.3,0.7,-0.1,-2.9,1.4,2.3,-1.8,0.3,4.1,-0.6,1,-2.1,2.7,0.5,
-1.2,2,-3.3,1.6,-0.2,0.8,-1.5,3.4,1.3,-2.4,0.1,2.2,-0.9,4.2,-1.7,1.7,0.6,-0.4,3,-2,
1.1,2.8,-1.1,0.2,-2.7,1.5,0.4,-0.7,2.4,-1.9,0.9,3.7,-0.3,-1.4,1.2,-2.3,2.6,0,-1,1.8,
-0.5,-3,1.3,2.1,-1.6,0.7,-0.2,3.2,0.3,-2.2,1.6,-0.8,2.5,-1.2,0.5,-3.4,1,-0.6,2,-1.8,
3.5,0.1,-1.3,1.4,-2.5,0.8,2.3,-0.4,1.9,-1.1,0.3,-2.8,2.7,-0.1,1.1,-1.5,3.8,0.6,-0.9,1.7,
-2.1,0.2,2.2,-0.7,1.2,-1.4,-0.2,3.1,0.9,-3.2,1.5,-1,0.4,2.9,-0.5,-1.7,0.7,
3.9,3.5,3.4,3.2,3.1,3,2.9,2.8,2.7,2.6,2.5,2.4,2.3,2.2,2.1,2,1.9,1.8,1.7,1.6,1.5,1.4,1.3,1.2,1.1,1,0.9,0.7,0.5,0.3,0.1,-0.1,-0.3,-0.5,-0.7,-1.1,-1.3,-1.5,-1.7,-1.9,-2.3,-3.1,-3.3,-3.5,-3.6];
const ySnhg3=[3.6,-0.3,1.9,2.9,0.4,0.25,2.4,4.2,3.2,2.8,1.7,2.7,3.8,1,1.3,3.4,4.1,4.6,
2.4,3.2,1.2,2.9,1.8,3.5,2.1,0.9,2.7,3.9,1.5,2.3,3,1.1,4.5,2.6,1.9,3.3,2.2,0.6,
3.1,1.4,2.8,3.7,1.7,2.5,4.2,1,2,3.4,2.7,1.3,3.1,2.4,4.8,1.8,2.9,0.4,3.6,2.2,
1.6,3,2.5,1.2,4,2.1,3.3,0.8,2.8,1.9,3.5,2.3,5.4,1.5,2.6,3.2,1.1,4.3,2,2.9,
3.4,1.7,2.4,3.8,1.3,2.7,0.5,3.1,2.2,1.8,4.4,2.6,1,3,2.1,3.6,1.6,2.8,4,2.5,
0.4,3.3,1.9,2.3,3.9,1.4,2.7,5.2,2,3.2,1.2,2.5,0.9,3.5,2.9,1.7,4.1,2.2,3,1.5,
2.6,4,1.1,3.4,2.3,1.8,2.8,0.2,3.1,2,3.7,1.6,2.4,4.5,1.3,2.9,3.3,2.1,1,2.7,
3.5,1.9,2.5,0.8,3,2.2,1.4,3.8,2.6,1.7,3.2,4.2,2,2.8,1.2,3.6,2.4,
4.7,4.5,4.3,4.2,4.1,4,3.9,3.8,3.7,3.6,3.5,3.4,3.3,3.2,3.1,3,2.9,2.8,2.7,2.6,2.5,2.4,2.3,2.2,2.1,2,1.9,1.8,1.7,1.6,1.5,1.4,1.3,1.1,1,0.9,0.8,0.7,3.35,2.95,2.55,2.15,1.75,3.75,4.05];
const yRparp=[1,0.6,0.4,0.75,0.55,-0.4,1.1,-0.25,3.1,1.4,-0.1,1.6,-0.45,0.4,2.1,1.5,0.3,1.5,
0.4,1.2,-0.2,0.8,1.5,0,0.6,-0.6,1,1.8,0.2,-0.9,0.7,1.3,-0.4,0.5,2.4,0.1,0.9,-0.1,
1.1,-0.7,0.3,1.6,0.5,-0.3,2.7,0.8,-1.1,0.2,1.4,0.6,-0.5,1,-0.1,2.2,0.4,-0.8,1.2,0.7,
0,1.7,-0.4,0.9,0.3,-1.2,1.3,0.6,2,-0.2,0.5,1.1,-0.6,0.1,1.5,0.8,-0.9,0.4,1.9,-0.3,
1,0.2,-0.7,1.4,0.6,2.5,0,-1,0.9,0.3,1.7,-0.4,0.7,1.2,-0.1,0.5,-0.8,1.6,0.1,2.1,
-0.5,0.8,0.3,1.1,-1.2,0.6,1.5,0,0.4,-0.6,1.3,0.9,-0.2,1.8,0.2,-0.9,0.7,1,-0.3,0.5,
1.6,-0.1,0.8,-0.7,1.2,0.3,2.3,0.6,-0.4,1,0.1,-1,1.4,0.5,-0.2,0.9,1.7,0.2,-0.5,1.1,
0.7,-0.8,0.4,1.3,0,1.9,0.6,-0.3,1,-1.1,0.8,0.3,1.5,-0.6,0.9,0.1,1.2,
3.4,2.9,2.8,2.7,2.2,2.1,1.9,1.8,1.7,1.6,1.5,1.4,1.3,1.2,1.1,1,0.9,0.8,0.7,0.6,0.5,0.4,0.3,0.2,0.1,0,-0.1,-0.2,-0.3,-0.5,-0.7,-0.75,-0.9,-1,1.45,1.25,1.05,0.85,0.65,0.45,0.25,0.05,-0.15,1.65,0.95];
const yOip5=[2.87,1.8,2.85,3.05,1.7,2.15,2.65,3.85,3.3,3.5,3.85,4.15,3.75,2.45,4.2,2.15,2.7,2.2,
3.3,2.7,3.8,3.1,2.5,3.5,4,2.9,3.2,2.3,3.6,2.8,4.3,3,2.6,3.4,2.2,3.7,3.1,2.9,
3.5,4.1,2.6,3.2,2.4,3.9,3,2.8,3.3,4.6,2.7,3.6,2.1,3.1,3.4,2.5,3.8,2.9,4.2,3.2,
2.8,3.5,2.3,3,3.7,2.6,4.4,3.3,2.9,3.6,2.4,3.1,4,2.7,3.4,1.8,3.2,2.5,3.8,3,
3.6,2.9,3.2,4.5,2.6,3.4,2.2,3.7,3.1,2.8,3.9,2.4,3.3,3,4.1,2.7,3.5,2.5,3.2,2,
3,3.8,2.6,3.4,2.9,4.3,2.3,3.6,3.1,2.7,3.3,3.9,2.5,3.2,2.8,3.7,2.1,3.5,3,4,
2.6,3.3,2.9,3.6,2.4,3.1,4.2,2.8,3.4,3,2.2,3.7,2.7,3.2,3.5,2.5,3.8,3.1,2.9,3.3,
2.6,4.1,3,2.3,3.6,2.8,3.4,3.2,2.4,3.9,2.7,3.5,3.1,2.9,3.7,2.5,3.3,
4.45,4.35,4.2,4.1,4,3.95,3.9,3.85,3.8,3.75,3.7,3.65,3.6,3.55,3.5,3.4,3.3,3.2,3.1,3,2.95,2.9,2.85,2.8,2.75,2.7,2.65,2.6,2.55,2.5,2.45,2.4,2.35,2.3,1.9,3.45,3.35,3.25,3.15,3.05,3.9,3.6,3.2,2.8,2.5];
const ticks29=[8,10,12,14,16];
const ticks135=[-7.5,-5,-2.5,0,2.5,5,7.5];
const ticksAdam=[6,4,2,0,-2,-4];
const ticksAfdn=[4,2,0,-2,-4,-6];
const ticksGas5=[10,9,8,7,6,5,4,3,2];
const ticksH19=[12.5,10,7.5,5,2.5,0,-2.5,-5];
const ticksHoxa=[4,2,0,-2,-4,-6,-8];
const ticksPvt=[8,6,4,2,0,-2,-4];
const ticksSnhg=[6,5,4,3,2,1,0,-1];
const ticksRparp=[4,3,2,1,0,-1,-2];
const ticksOip=[5.5,5,4.5,4,3.5,3,2.5,2,1.5,1];
const fitAdam29=[-0.4263,5.0904],fitAdam135=[-0.1292,0.3043],fitAfdn=[-0.1808,0.8879],fitGas5=[-0.1685,6.6187],fitH19=[-0.5356,8.4167],fitHoxa=[-0.2854,1.0745],fitPvt=[-0.1263,2.6446],fitSnhg=[-0.0335,2.5953],fitRparp=[-0.0228,0.6263],fitOip=[-0.0228,3.1473];

/* ---------- sankey data ---------- */
const sankeySources=["HOXA10-AS","GAS5","AFDN-DT","PVT1","H19","SNHG3","RPARP-AS1","OIP5-AS1"];
const sankeyTargets=[1,1,1,1,1,0,0,0];
const sankeyValues=[1,1,1,1,1,1,1,1];
const sankeyMiRNAs=["hsa-miR-135a-5p","hsa-miR-29c-3p"];
const sankeyColors=["#5DA860","#6B4F4F","#5C72C0","#AB90CE","#CFAB40","#7FCACF","#A8A444","#EE8C38"];
const sankeyBars=["#4FA36A","#7A5E5E","#4F68B8","#9C80C0","#C89F30","#4CB8B8","#8E8E3C","#E8843A"];

/* ---------- helpers ---------- */
const NS="http://www.w3.org/2000/svg";
const root=document.getElementById("dyn");
function mk(tag,attrs,parent){
  const e=document.createElementNS(NS,tag);
  for(const k in attrs)e.setAttribute(k,attrs[k]);
  (parent||root).appendChild(e);
  return e;
}
function mixColor(a,b,t){
  const pa=parseInt(a.slice(1),16),pb=parseInt(b.slice(1),16);
  const ch=s=>Math.round(((pa>>s)&255)*(1-t)+((pb>>s)&255)*t);
  return "rgb("+ch(16)+","+ch(8)+","+ch(0)+")";
}
function heatColor(v){
  const c=Math.max(0,Math.min(10,v)),i=Math.min(9,Math.floor(c));
  return mixColor(heatScaleColors[i],heatScaleColors[i+1],c-i);
}
function fmt(v){return String(v).replace("-","\u2212");}

/* ---------- heatmap ---------- */
(function(){
  const g=mk("g",{});
  
  
  const X0=220,X1=609,Y0=139.5,Y1=742;
  const nR=heatValues.length,nC=heatValues[0].length;
  const cw=(X1-X0)/nC,rh=(Y1-Y0)/nR;
  const sx=c=>X0+c*cw,sy=r=>Y0+r*rh;
  heatValues.forEach((row,r)=>row.forEach((v,c)=>{
    const cell=mk("rect",{x:sx(c),y:sy(r),width:cw+.4,height:rh+.4,fill:heatColor(v)},g);
    
    
  }));
  heatProbes.forEach((p,r)=>{
    const t=mk("text",{x:612,y:sy(r)+rh/2,"font-size":14.300,fill:"#333","dominant-baseline":"central"},g);
    t.textContent=p;
    
    
  });
  relationRow.forEach((v,r)=>{
    const b=mk("rect",{x:198,y:sy(r),width:10,height:rh+.4,fill:relationColors[v]},g);
    
    
  });
  refgeneRow.forEach((v,r)=>{
    const b=mk("rect",{x:210,y:sy(r),width:9,height:rh+.4,fill:refgeneColors[v]},g);
    
    
  });
  [[annEthnicity,"ethnicity",98,8.4],[annRace,"race",108,8.6],[annAge,"age",119,8.2],[annEvent,"event",129,8.4]].forEach(a=>{
    a[0].forEach((v,c)=>{
      const b=mk("rect",{x:sx(c),y:a[2],width:cw+.4,height:a[3],fill:annPalettes[a[1]][v]},g);
      
      
    });
  });
  topLeafHeights.forEach((h,c)=>{
    const p=mk("path",{d:"M"+sx(c)+" 88Q"+(sx(c)+cw/2)+" "+(88-h*1.3)+" "+(sx(c)+cw)+" 88",fill:"none",stroke:"#777","stroke-width":1},g);
    
    
  });
  const band=mk("rect",{x:X0,y:86,width:X1-X0,height:11,fill:"#4A4444"},g);
  
  
  function depth(n){return Array.isArray(n)?1+Math.max(depth(n[0]),depth(n[1])):0;}
  const treeX=h=>197-h*5.2;
  function drawTree(n,isRoot){
    if(!Array.isArray(n))return {y:sy(n)+rh/2,x:197};
    const a=drawTree(n[0]),b=drawTree(n[1]);
    const x=isRoot?151:treeX(depth(n));
    const path=mk("path",{d:"M"+a.x+" "+a.y+"H"+x+"V"+b.y+"H"+b.x,fill:"none",stroke:"#999","stroke-width":1},g);
    
    
    return {y:(a.y+b.y)/2,x:x};
  }
  drawTree(rowTree,true);
  /* colour bar */
  for(let i=0;i<100;i++){
    const s=mk("rect",{x:693,y:97+i*1.3,width:10,height:1.7,fill:heatColor(9.6-i*0.088)},g);
    
    
  }
  colorbarTicks.forEach(v=>{
    const t=mk("text",{x:706,y:176+(0.4-v)*134,"font-size":7.5,fill:"#555","dominant-baseline":"central"},g);
    t.textContent=v;
    
    
  });
  legendBlocks.forEach(b=>{
    const tt=mk("text",{x:720,y:b[1],"font-size":8.4,"font-weight":"bold",fill:"#222","dominant-baseline":"central"},g);
    tt.textContent=b[0];
    
    
    b[2].forEach((it,i)=>{
      const yy=b[1]+6+i*12.6;
      const sw=mk("rect",{x:720,y:yy,width:13,height:12.8,fill:it[1]},g);
      
      
      const lb=mk("text",{x:736,y:yy+6.4,"font-size":8.6,fill:"#555","dominant-baseline":"central"},g);
      lb.textContent=it[0];
      
      
    });
  });
})();

/* ---------- scatter plots ---------- */
function drawScatter(c){
  const g=mk("g",{});
  
  
  const sx=v=>c.xMap[1]+(v-c.xMap[0])*(c.xMap[3]-c.xMap[1])/(c.xMap[2]-c.xMap[0]);
  const sy=v=>c.yMap[1]+(v-c.yMap[0])*(c.yMap[3]-c.yMap[1])/(c.yMap[2]-c.yMap[0]);
  const f=c.frame;
  const bg=mk("rect",{x:f[0],y:f[1],width:f[2]-f[0],height:f[3]-f[1],fill:"#fff",stroke:"#dedede","stroke-width":1.6},g);
  
  
  for(let i=1;i<24;i++){
    const yy=f[1]+i*(f[3]-f[1])/24;
    const gl=mk("line",{x1:f[0],x2:f[2],y1:yy,y2:yy,stroke:i%2?"#f8f8f8":"#f0f0f0","stroke-width":2},g);
    
    
  }
  c.xTicks.forEach(v=>{
    const t=mk("text",{x:sx(v),y:c.tickY,"font-size":c.tickSize,fill:"#444","text-anchor":"middle","dominant-baseline":"central"},g);
    t.textContent=fmt(v);
    
    
  });
  c.yTicks.forEach(v=>{
    const t=mk("text",{x:f[0]-6,y:sy(v),"font-size":c.tickSize,fill:"#444","text-anchor":"end","dominant-baseline":"central"},g);
    t.textContent=fmt(v);
    
    
  });
  const n=Math.min(c.xs.length,c.ys.length);
  for(let i=0;i<n;i++){
    const p=mk("circle",{cx:sx(c.xs[i]),cy:sy(c.ys[i]),r:c.r||3,fill:"#1B6CA3"},g);
    
    
  }
  const xMin=Math.min.apply(null,c.xs),xMax=Math.max.apply(null,c.xs);
  const line=mk("line",{x1:sx(xMin),y1:sy(c.fit[0]*xMin+c.fit[1]),x2:sx(xMax),y2:sy(c.fit[0]*xMax+c.fit[1]),stroke:"#F07C74","stroke-width":3.4,"stroke-opacity":.85},g);
  
  
  const lb=c.legend;
  const box=mk("rect",{x:lb[0],y:lb[1],width:lb[2],height:19,fill:"#fff",stroke:"#ccc","stroke-width":1},g);
  
  
  const k=mk("line",{x1:lb[0]+3,x2:lb[0]+13,y1:lb[1]+5.5,y2:lb[1]+5.5,stroke:"#58B4E4","stroke-width":1.6},g);
  
  
  const d=mk("circle",{cx:lb[0]+8,cy:lb[1]+14,r:2,fill:"#2CA02C"},g);
  
  
  const sign=c.fit[1]<0?" - ":" + ";
  const tA=mk("text",{x:lb[0]+16,y:lb[1]+5.5,"font-size":6.8,fill:"#555","dominant-baseline":"central",textLength:lb[2]-19,lengthAdjust:"spacingAndGlyphs"},g);
  tA.textContent="Regression (y = "+c.fit[0]+"x"+sign+Math.abs(c.fit[1])+")";
  
  
  const tB=mk("text",{x:lb[0]+16,y:lb[1]+14,"font-size":6.8,fill:"#555","dominant-baseline":"central",textLength:lb[2]-33,lengthAdjust:"spacingAndGlyphs"},g);
  tB.textContent=c.stat;
  
  
  const ti=mk("text",{x:c.title[1],y:c.title[2],"font-size":c.labelSize,fill:"#444","text-anchor":"middle","dominant-baseline":"central",textLength:c.title[3],lengthAdjust:"spacingAndGlyphs"},g);
  ti.textContent=c.title[0];
  
  
  const xl=mk("text",{x:c.xLabel[1],y:c.xLabel[2],"font-size":c.labelSize,fill:"#444","text-anchor":"middle","dominant-baseline":"central",textLength:c.xLabel[3],lengthAdjust:"spacingAndGlyphs"},g);
  xl.textContent=c.xLabel[0];
  
  
  const yl=mk("text",{transform:"translate("+c.yLabel[1]+","+c.yLabel[2]+") rotate(-90)","font-size":c.labelSize,fill:"#444","text-anchor":"middle","dominant-baseline":"central",textLength:c.yLabel[3],lengthAdjust:"spacingAndGlyphs"},g);
  yl.textContent=c.yLabel[0];
  
  
}
const lab29="hsa-miR-29c-3p expression level",lab135="hsa-miR-135a-5p expression level";
drawScatter({name:"scatter-mir29c-adam12",xs:x29,ys:yAdam29,fit:fitAdam29,stat:"r = -0.258, p-value = 4.55e-07",frame:[1125,560,1455.6,848],xMap:[8,1127,16,1449],yMap:[6,563,-4,844],xTicks:ticks29,yTicks:ticksAdam,tickY:867,tickSize:20,labelSize:20,r:3.6,legend:[1140,561.6,186],title:["hsa-miR-29c-3p vs. ADAM12",1290,538,267],xLabel:[lab29,1283,894,300],yLabel:["ADAM12 expression level",1077,704,235]});
drawScatter({name:"scatter-mir135a-adam12",xs:x135,ys:yAdam135,fit:fitAdam135,stat:"r = -0.266, p-value = 1.83e-07",frame:[1558,560,1887,848],xMap:[-7.5,1563,7.5,1881],yMap:[6,563,-4,844],xTicks:ticks135,yTicks:ticksAdam,tickY:867,tickSize:20,labelSize:20,r:3.6,legend:[1573,561.6,184],title:["hsa-miR-135a-5p vs. ADAM12",1711,540,280],xLabel:[lab135,1722,894,315],yLabel:["ADAM12 expression level",1502,701,235]});
drawScatter({name:"scatter-mir29c-afdn-dt",xs:x29,ys:yAfdn,fit:fitAfdn,stat:"r = -0.112, p-value = 3.68e-02",frame:[83,1658,384,1923],xMap:[8,82.6,16,379.3],yMap:[4,1660,-6,1921.7],xTicks:ticks29,yTicks:ticksAfdn,tickY:1942,tickSize:19,labelSize:19,r:3.4,legend:[94,1660,171],title:["hsa-miR-29c-3p vs. AFDN-DT",226,1633,275],xLabel:[lab29,226,1967,301],yLabel:["AFDN-DT expression level",29,1800,243]});
drawScatter({name:"scatter-mir29c-gas5",xs:x29,ys:yGas5,fit:fitGas5,stat:"r = -0.200, p-value = 1.07e-04",frame:[488,1658,788.5,1923],xMap:[8,486.7,16,784],yMap:[10,1660,2,1927.7],xTicks:ticks29,yTicks:ticksGas5,tickY:1943,tickSize:19,labelSize:19,r:3.4,legend:[498,1660,171],title:["hsa-miR-29c-3p vs. GAS5",637.6,1633,241],xLabel:[lab29,631,1969,301],yLabel:["GAS5 expression level",442,1792,208]});
drawScatter({name:"scatter-mir29c-h19",xs:x29,ys:yH19,fit:fitH19,stat:"r = -0.203, p-value = 8.03e-05",frame:[904,1657,1199.5,1923],xMap:[8,900,16,1196],yMap:[12.5,1660,-5,1923],xTicks:ticks29,yTicks:ticksH19,tickY:1943,tickSize:19,labelSize:19,r:3.4,legend:[911,1660,168],title:["hsa-miR-29c-3p vs. H19",1045,1633,222],xLabel:[lab29,1045,1969,301],yLabel:["H19 expression level",837,1793,190]});
drawScatter({name:"scatter-mir29c-hoxa10-as",xs:x29,ys:yHoxa10,fit:fitHoxa,stat:"r = -0.115, p-value = 2.71e-02",frame:[1299.5,1657,1600,1923],xMap:[8,1297.6,16,1592.5],yMap:[4,1660,-8,1923],xTicks:ticks29,yTicks:ticksHoxa,tickY:1942,tickSize:19,labelSize:19,r:3.4,legend:[1309,1660,170],title:["hsa-miR-29c-3p vs. HOXA10-AS",1441,1624,300],xLabel:[lab29,1441,1967,301],yLabel:["HOXA10 expression level",1238,1800,233]});
drawScatter({name:"scatter-mir29c-pvt1",xs:x29,ys:yPvt1,fit:fitPvt,stat:"r = -0.119, p-value = 2.11e-02",frame:[1711,1657,2014,1923],xMap:[8,1709.7,16,2009],yMap:[8,1660,-4,1923],xTicks:ticks29,yTicks:ticksPvt,tickY:1943,tickSize:19,labelSize:19,r:3.4,legend:[1721,1660,171],title:["hsa-miR-29c-3p vs. PVT1",1853,1624,235],xLabel:[lab29,1854.5,1969,301],yLabel:["PVT1 expression level",1665,1800,203]});
drawScatter({name:"scatter-mir135a-snhg3",xs:x135,ys:ySnhg3,fit:fitSnhg,stat:"r = -0.122, p-value = 3.87e-02",frame:[82.6,2151.7,385,2420.7],xMap:[-7.5,84,7.5,379],yMap:[6,2151.7,-1,2420],xTicks:ticks135,yTicks:ticksSnhg,tickY:2439,tickSize:19,labelSize:19,r:3.4,legend:[93,2154,171],title:["hsa-miR-135a-5p vs. SNHG3",227,2128,270],xLabel:[lab135,233,2464,315],yLabel:["SNHG3 expression level",42,2290,223]});
drawScatter({name:"scatter-mir135a-rparp-as1",xs:x135,ys:yRparp,fit:fitRparp,stat:"r = -0.102, p-value = 4.84e-02",frame:[486,2151.7,790,2420.7],xMap:[-7.5,487.5,7.5,790],yMap:[4,2151.7,-2,2418],xTicks:ticks135,yTicks:ticksRparp,tickY:2441,tickSize:19,labelSize:19,r:3.4,legend:[497,2154,172],title:["hsa-miR-135a-5p vs. RPARP-AS1",630,2128,311],xLabel:[lab135,637,2469,315],yLabel:["RPARP-AS1 expression level",441.5,2282,268]});
drawScatter({name:"scatter-mir135a-oip5-as1",xs:x135,ys:yOip5,fit:fitOip,stat:"r = -0.144, p-value = 5.45e-03",frame:[904,2151.7,1205.5,2421.7],xMap:[-7.5,909,7.5,1207],yMap:[5.5,2151.7,1,2425],xTicks:ticks135,yTicks:ticksOip,tickY:2445,tickSize:19,labelSize:19,r:3.4,legend:[913,2154,172],title:["hsa-miR-135a-5p vs. OIP5-AS1",1046.7,2123,291],xLabel:[lab135,1055,2469,315],yLabel:["OIP5-AS1 expression level",843,2277,247]});

/* ---------- sankey ---------- */
(function(){
  const g=mk("g",{});
  
  
  const xL=1275,xM=1581,xR=1889,k=51.9,gapL=3.7;
  const yL0=2076.7,yMStart=[2084,2246.7],yR0=2083.3;
  const flows=sankeySources.map((s,i)=>({s:s,i:i,t:sankeyTargets[i],v:sankeyValues[i]}));
  let cur=yL0;
  flows.forEach(f=>{f.y0=cur;f.h=f.v*k;cur+=f.h+gapL;});
  const tCur=yMStart.slice();
  flows.forEach(f=>{f.y1=tCur[f.t];tCur[f.t]+=f.h;});
  const totals=[0,0];
  flows.forEach(f=>{totals[f.t]+=f.v;});
  const band=(x0,y0,x1,y1,h0,h1,fill,op,name)=>{
    const m=(x0+x1)/2;
    const p=mk("path",{d:"M"+x0+" "+y0+"C"+m+" "+y0+" "+m+" "+y1+" "+x1+" "+y1+"L"+x1+" "+(y1+h1)+"C"+m+" "+(y1+h1)+" "+m+" "+(y0+h0)+" "+x0+" "+(y0+h0)+"Z",fill:fill,"fill-opacity":op},g);
    
    
  };
  flows.forEach(f=>band(xL,f.y0,xM,f.y1,f.h,f.h,sankeyColors[f.i],.38,"sankey-link"));
  band(xM,yMStart[0],xR,yR0,totals[0]*k,totals[0]*k,"#C4AFA8",1,"sankey-link-mir135a-adam12");
  band(xM,yMStart[1],xR,yR0+totals[0]*k,totals[1]*k,totals[1]*k,"#F6B8AA",1,"sankey-link-mir29c-adam12");
  flows.forEach(f=>{
    const b=mk("rect",{x:xL-2,y:f.y0,width:3,height:f.h,fill:sankeyBars[f.i]},g);
    
    
    const t=mk("text",{x:xL+3,y:f.y0+f.h/2,"font-size":13,fill:"#333","dominant-baseline":"central"},g);
    t.style.fontFamily='"Liberation Serif",serif';
    t.textContent=f.s;
    
    
  });
  const midBar=["#8A6A60","#E0504A"];
  sankeyMiRNAs.forEach((m,i)=>{
    const b=mk("rect",{x:xM-1,y:yMStart[i],width:3,height:totals[i]*k,fill:midBar[i]},g);
    
    
    const t=mk("text",{x:xM-3,y:yMStart[i]+totals[i]*k/2,"font-size":13,fill:"#333","text-anchor":"end","dominant-baseline":"central"},g);
    t.style.fontFamily='"Liberation Serif",serif';
    t.textContent=m;
    
    
  });
  const rb=mk("rect",{x:xR-1,y:yR0,width:3,height:(totals[0]+totals[1])*k,fill:"#7A9CD0"},g);
  
  
  const rt=mk("text",{x:xR-5,y:yR0+(totals[0]+totals[1])*k/2,"font-size":13,fill:"#333","text-anchor":"end","dominant-baseline":"central"},g);
  rt.style.fontFamily='"Liberation Serif",serif';
  rt.textContent="ADAM12";
  
  
})();
</script>
</body>
</html>
